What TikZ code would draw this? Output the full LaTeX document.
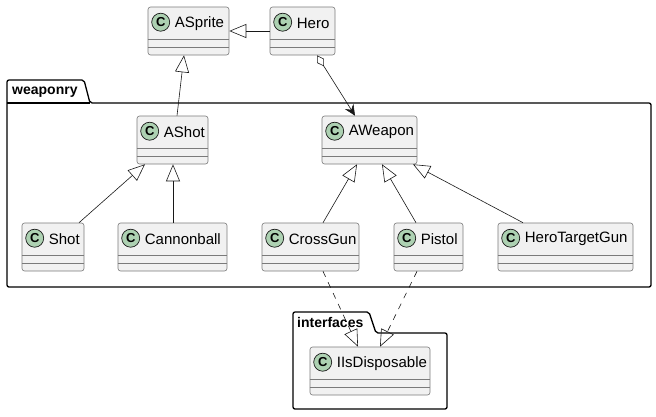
\documentclass[tikz,border=0pt]{standalone}
\usepackage{fontspec}
\setmainfont{Liberation Sans}
\usetikzlibrary{arrows.meta}
\definecolor{classfill}{HTML}{F1F1F1}
\definecolor{classline}{HTML}{181818}
\definecolor{boxline}{HTML}{7A7A7A}
\definecolor{badgegreen}{HTML}{ADD1B2}

\begin{document}
\begin{tikzpicture}[x=1pt, y=-1pt,
    classbox/.style={draw=boxline, line width=0.6pt, fill=classfill, rounded corners=2.5pt, minimum height=48pt, inner sep=0pt},
    badge/.style={circle, draw=classline, line width=0.7pt, fill=badgegreen, minimum size=18pt, inner sep=0pt, font=\fontsize{13}{13}\selectfont\bfseries},
    classname/.style={anchor=west, inner sep=0pt, font=\fontsize{15}{18}\selectfont},
    pkgline/.style={draw=black, line width=1.3pt, rounded corners=2pt},
    pkgname/.style={anchor=west, inner sep=0pt, font=\fontsize{14}{16}\selectfont\bfseries},
    extends/.style={-{Triangle[open, length=17pt, width=14pt]}, draw=classline, line width=0.6pt},
    realizes/.style={extends, dash pattern=on 6pt off 6pt},
    holds/.style={{Diamond[open, length=13pt, width=8pt]}-{Stealth[length=11pt, width=10pt, inset=4pt]}, draw=classline, line width=0.6pt}]

    \useasboundingbox (0,0) rectangle (656,416);

    % Packages
    \draw[pkgline] (7,103) -- (7,80) -- (84,80) -- (90,103) -- (651,103) -- (651,287) -- (7,287) -- cycle;
    \draw[pkgline] (7,103) -- (90,103);
    \node[pkgname] (weaponry) at (12,92) {weaponry};
    \draw[pkgline] (293,333) -- (293,312) -- (369,312) -- (376,333) -- (447,333) -- (447,409) -- (293,409) -- cycle;
    \node[pkgname] (interfaces) at (297,322) {interfaces};

    % Nodes
    \foreach \n/\cx/\cy/\w/\t in {asprite/188.5/31/81/ASprite, hero/302.5/31/65/Hero,
        ashot/172.5/140/71/AShot, aweapon/369.5/140/95/AWeapon,
        shot/53/247/62/Shot, cannonball/172.5/247/109/Cannonball,
        crossgun/310.5/247/97/CrossGun, pistol/428.5/247/69/Pistol,
        herotargetgun/565.5/247/135/HeroTargetGun, iisdisposable/370/371/120/IIsDisposable} {
        \node[classbox, minimum width=\w pt] (\n) at (\cx,\cy) {};
        \draw[boxline, line width=0.6pt] ([yshift=-33pt]\n.north west) -- ([yshift=-33pt]\n.north east);
        \draw[boxline, line width=0.6pt] ([yshift=-40.5pt]\n.north west) -- ([yshift=-40.5pt]\n.north east);
        \node[badge] at ([shift={(13,15.5)}]\n.north west) {C};
        \node[classname] at ([shift={(27,16.5)}]\n.north west) {\t};
    }

    % Arrows
    \draw[extends] (hero.west |- 0,31) -- (asprite.east |- 0,31);
    \draw[extends] (ashot.north -| 177,0) -- (asprite.south -| 184,0);
    \draw[holds] (hero.south -| 317,0) -- (aweapon.north -| 355,0);
    \foreach \i/\ix/\j/\jx in {shot/79/ashot/145, cannonball/173/ashot/173,
        crossgun/323/aweapon/357, pistol/416/aweapon/382, herotargetgun/523/aweapon/413} {
        \draw[extends] (\i.north -| \ix,0) -- (\j.south -| \jx,0);
    }
    \draw[realizes] (crossgun.south -| 323,0) -- (iisdisposable.north -| 358,0);
    \draw[realizes] (pistol.south -| 417,0) -- (iisdisposable.north -| 380,0);

\end{tikzpicture}
\end{document}
